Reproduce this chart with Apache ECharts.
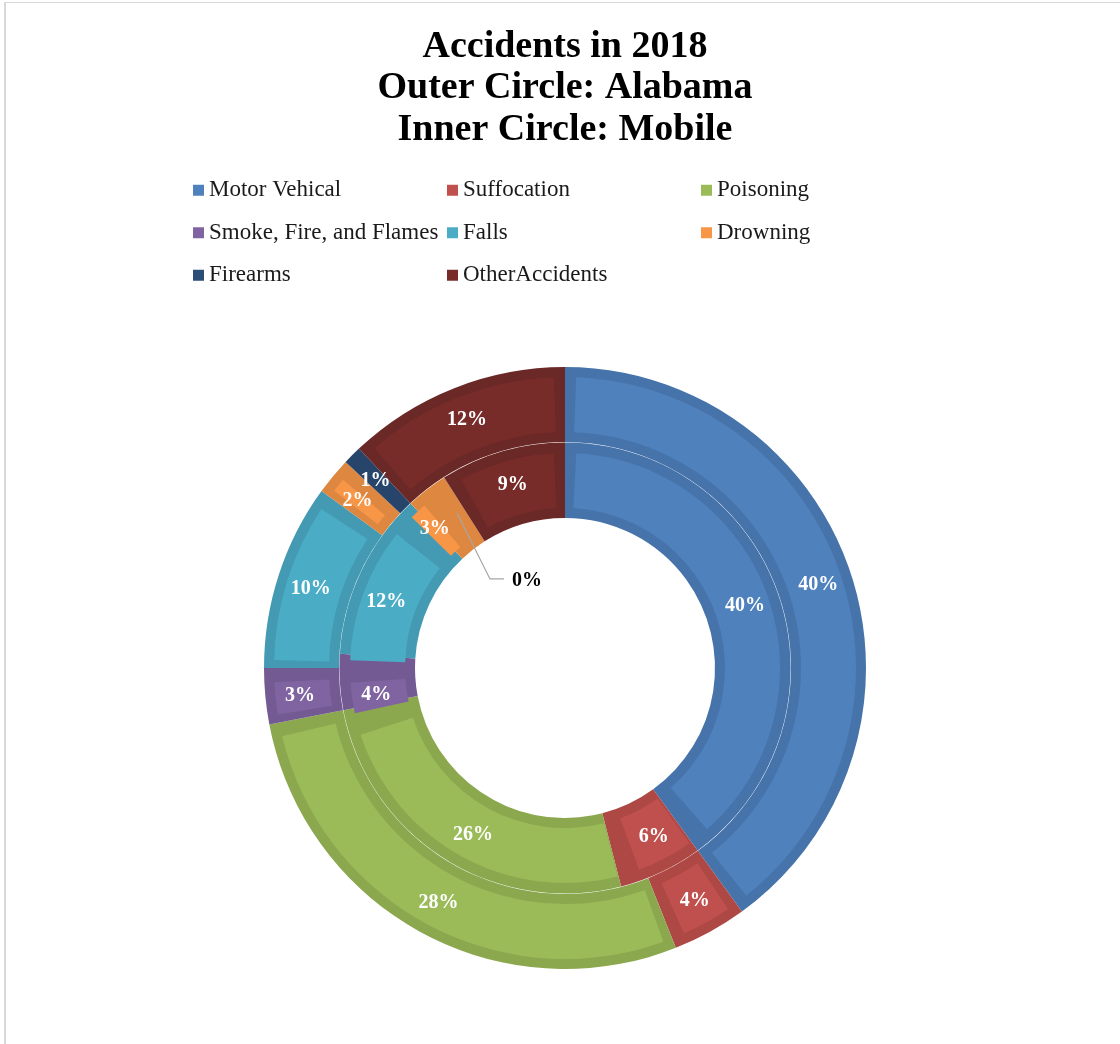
<!DOCTYPE html>
<html>
<head>
<meta charset="utf-8">
<script src="https://cdn.jsdelivr.net/npm/echarts@6/dist/echarts.min.js"></script>
<style>
  html, body { margin: 0; padding: 0; background: #fff; overflow: hidden; }
  #frame { position: absolute; left: 4px; top: 2px; width: 1200px; height: 1100px;
           border-left: 2px solid #d9d9d9; border-top: 1px solid #d9d9d9; }
  #chart { position: absolute; left: 0; top: 0; width: 1130px; height: 1044px; }
</style>
</head>
<body>
<div id="frame"></div>
<div id="chart"></div>
<script>
// ---- data ----
const categories = ['Motor Vehical', 'Suffocation', 'Poisoning', 'Smoke, Fire, and Flames',
                    'Falls', 'Drowning', 'Firearms', 'OtherAccidents'];
const alabama = [40, 4, 28, 3, 10, 2, 1, 12];   // outer circle (%)
const mobile  = [40, 6, 26, 4, 12, 3, 0, 9];    // inner circle (%)
const titleLines = ['Accidents in 2018', 'Outer Circle: Alabama', 'Inner Circle: Mobile'];

// ---- styles ----
const fillColors = ['#4F81BD', '#C0504D', '#9BBB59', '#8064A2', '#4BACC6', '#F79646', '#2C4D75', '#772C2A'];
const edgeColors = ['#4673AA', '#AD4845', '#8BA84F', '#735A92', '#439AB2', '#DE8740', '#27446A', '#6A2826'];
const FONT = 'Liberation Serif';
const CX = 565, CY = 668;

function items(values, colors) {
  return categories.map((name, i) => ({ name: name, value: values[i], itemStyle: { color: colors[i] } }));
}

const labelCommon = {
  show: true, position: 'inside', formatter: '{c}%',
  color: '#fff', fontFamily: FONT, fontWeight: 'bold', fontSize: 20
};

const innerLightData = items(mobile, fillColors);
innerLightData.forEach((d, i) => {
  if (mobile[i] === 0) {
    d.label = { position: 'outside', color: '#000', fontSize: 20, fontWeight: 'bold', fontFamily: FONT };
    d.labelLine = { show: true, length: 10, length2: 10, lineStyle: { color: '#a6a6a6', width: 1.2 } };
  }
});

const chart = echarts.init(document.getElementById('chart'), null, { renderer: 'canvas' });
chart.setOption({
  animation: false,
  backgroundColor: 'transparent',
  title: {
    text: titleLines.join('\n'),
    left: 'center', top: 21,
    textStyle: { fontFamily: FONT, fontWeight: 'bold', fontSize: 38, lineHeight: 41.5, color: '#000' }
  },
  legend: {
    left: 188, top: 164, width: 775,
    orient: 'horizontal', itemGap: 0,
    icon: 'rect', itemWidth: 11, itemHeight: 11,
    selectedMode: false,
    data: categories,
    textStyle: { fontFamily: FONT, fontSize: 23, color: '#1a1a1a', width: 238, lineHeight: 42.5 }
  },
  series: [
    // light inner fills (drawn on top)
    {
      type: 'pie', name: 'Alabama', z: 4, center: [CX, CY], radius: [236, 291],
      startAngle: 90, clockwise: true, padAngle: 4.4, silent: true,
      label: labelCommon, labelLine: { show: false },
      data: items(alabama, fillColors)
    },
    {
      type: 'pie', name: 'Mobile', z: 4, center: [CX, CY], radius: [160, 215],
      startAngle: 90, clockwise: true, padAngle: 6, silent: true,
      avoidLabelOverlap: false,
      label: labelCommon, labelLine: { show: false },
      data: innerLightData,
      labelLayout: function (params) {
        if (mobile[params.dataIndex] !== 0 || !params.labelLinePoints) return {};
        const p0 = params.labelLinePoints[0], p1 = params.labelLinePoints[1];
        const dx = p1[0] - p0[0], dy = p1[1] - p0[1];
        const len = Math.sqrt(dx * dx + dy * dy) || 1;
        const a = [p0[0] - dx / len * 26, p0[1] - dy / len * 26];
        const b = [a[0] + 33, a[1] + 66];
        const c = [b[0] + 14, b[1]];
        return { x: c[0] + 8, y: c[1] + 2, align: 'left', verticalAlign: 'middle', labelLinePoints: [a, b, c] };
      }
    },
    // darker edge rings (underneath)
    {
      type: 'pie', name: 'AlabamaEdge', z: 2, center: [CX, CY], radius: [226, 301],
      startAngle: 90, clockwise: true, silent: true,
      label: { show: false }, labelLine: { show: false },
      data: items(alabama, edgeColors)
    },
    {
      type: 'pie', name: 'MobileEdge', z: 2, center: [CX, CY], radius: [150, 225.6],
      startAngle: 90, clockwise: true, silent: true,
      label: { show: false }, labelLine: { show: false },
      data: items(mobile, edgeColors)
    }
  ]
});
</script>
</body>
</html>
